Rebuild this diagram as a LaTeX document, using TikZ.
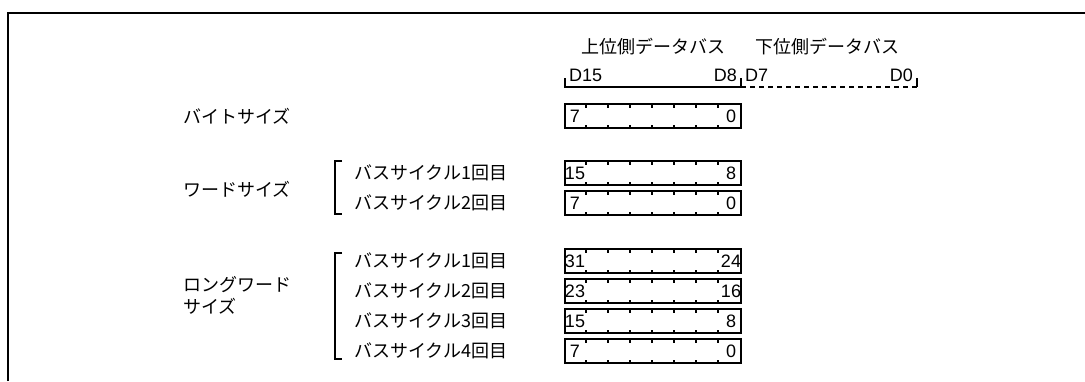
\documentclass[tikz,border=0pt]{standalone}
\usepackage{fontspec}
\setmainfont{Liberation Sans}
\newfontfamily\jp{Noto Sans CJK JP}
\tikzset{
  regbox/.style={draw, line width=2pt, inner sep=0pt, minimum width=176pt, minimum height=24pt},
  tick/.style={line width=1.1pt},
  num/.style={font=\fontsize{18}{18}\selectfont, inner sep=0pt},
  jtxt/.style={font=\jp\fontsize{18}{21}\selectfont, inner sep=0pt, anchor=west},
  dlab/.style={font=\fontsize{18}{18}\selectfont, inner sep=0pt},
  brk/.style={line width=1.1pt},
  frame/.style={line width=2pt}
}
\newcommand\regbox[4]{%
  \node[regbox] (#1) at (653,#2) {};
  \foreach \k in {1,...,7}{%
    \draw[tick] ([xshift=\k*22pt]#1.north west) -- ++(0,4.5);
    \draw[tick] ([xshift=\k*22pt]#1.south west) -- ++(0,-4.5);
  }
  \node[num] (#1l) at ([xshift=11pt,yshift=-0.5pt]#1.west) {#3};
  \node[num] (#1r) at ([xshift=-11pt,yshift=-0.5pt]#1.east) {#4};
}
\begin{document}
\begin{tikzpicture}[x=1pt,y=-1pt]
\useasboundingbox (0,0) rectangle (1085,381);
% frame
\coordinate (fbl) at (7.5,381);
\coordinate (ftl) at (7.5,12.5);
\coordinate (ftr) at (1085,12.5);
\draw[frame] (fbl) -- (ftl) -- (ftr);

% header
\node[font=\jp\fontsize{18}{21}\selectfont, inner sep=0pt] (hu) at (653.5,47) {上位側データバス};
\node[font=\jp\fontsize{18}{21}\selectfont, inner sep=0pt] (hl) at (827.5,47) {下位側データバス};
\node[dlab, anchor=west] (d15) at (569,75) {D15};
\node[dlab, anchor=east] (d8) at (737,75) {D8};
\node[dlab, anchor=west] (d7) at (745,75) {D7};
\node[dlab, anchor=east] (d0) at (913,75) {D0};
\coordinate (bl) at (565,87);
\coordinate (bm) at (741,87);
\coordinate (br) at (917,87);
\draw[line width=2pt] ([yshift=9pt]bl) -- (bl) -- (bm) -- ([yshift=9pt]bm);
\draw[line width=1.2pt, dash pattern=on 5pt off 4pt] (bm) -- (br);
\draw[line width=2pt] (br) -- ([yshift=9pt]br);

% byte
\node[jtxt] (byte) at (183,116) {バイトサイズ};
\regbox{b}{116}{7}{0}

% word
\node[jtxt] (word) at (183,189) {ワードサイズ};
\coordinate (wbt) at (335,161);
\coordinate (wbb) at (335,214);
\draw[brk] ([xshift=7pt]wbt) -- (wbt) -- (wbb) -- ([xshift=7pt]wbb);
\node[jtxt] (w1) at (354,173) {バスサイクル1回目};
\node[jtxt] (w2) at (354,203) {バスサイクル2回目};
\regbox{wa}{173}{15}{8}
\regbox{wb}{203}{7}{0}

% long word
\node[jtxt] (lw1) at (183,285) {ロングワード};
\node[jtxt] (lw2) at (183,306) {サイズ};
\coordinate (lbt) at (335,253);
\coordinate (lbb) at (335,359);
\draw[brk] ([xshift=7pt]lbt) -- (lbt) -- (lbb) -- ([xshift=7pt]lbb);
\node[jtxt] (l1) at (354,261) {バスサイクル1回目};
\node[jtxt] (l2) at (354,291) {バスサイクル2回目};
\node[jtxt] (l3) at (354,321) {バスサイクル3回目};
\node[jtxt] (l4) at (354,351) {バスサイクル4回目};
\regbox{la}{261}{31}{24}
\regbox{lb}{291}{23}{16}
\regbox{lc}{321}{15}{8}
\regbox{ld}{351}{7}{0}
\end{tikzpicture}
\end{document}
